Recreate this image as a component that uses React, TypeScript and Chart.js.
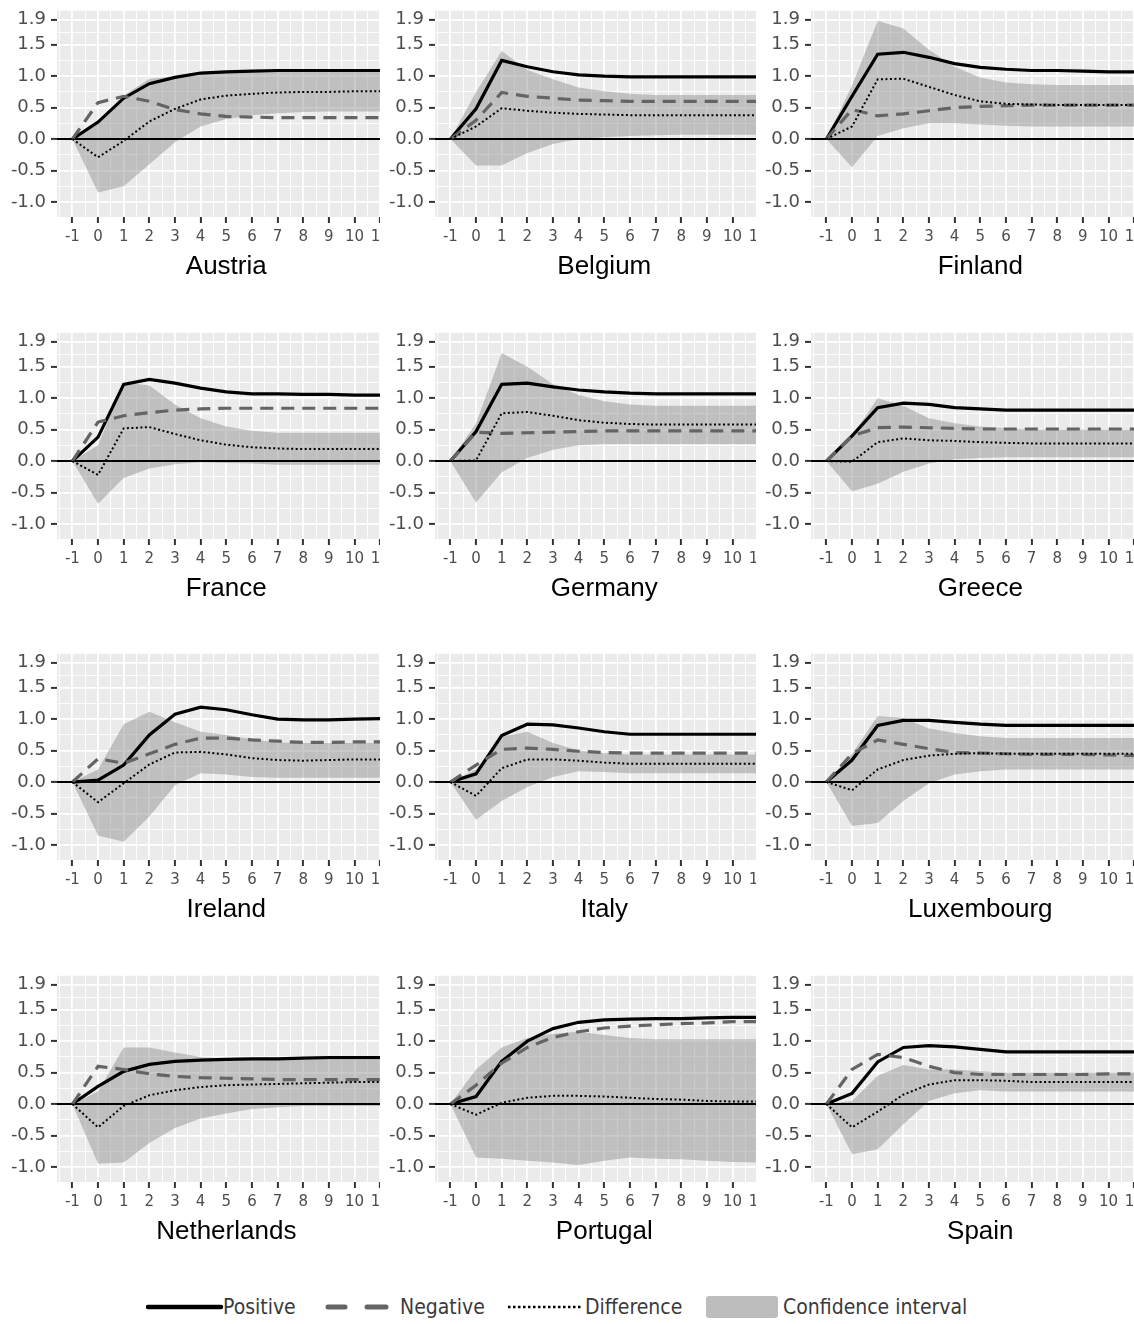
import React, { useEffect, useRef } from 'react';
import { Chart, registerables } from 'chart.js';

Chart.register(...registerables);

// ---- axes ----
const HORIZON = [-1, 0, 1, 2, 3, 4, 5, 6, 7, 8, 9, 10, 11];
const X_MINOR = [-1.5, -0.5, 0.5, 1.5, 2.5, 3.5, 4.5, 5.5, 6.5, 7.5, 8.5, 9.5, 10.5, 11.5];
const X_MIN = -1.6;
const X_MAX = 11.6;
const Y_MAJOR = [-1, -0.5, 0, 0.5, 1, 1.5, 1.9];
const Y_MINOR = [-0.75, -0.25, 0.25, 0.75, 1.25, 1.7];
const Y_LABELS = ['-1.0', '-0.5', '0.0', '0.5', '1.0', '1.5', '1.9'];
const Y_MIN = -1.24;
const Y_MAX = 2.04;

// ---- data (horizon -1 .. 11) ----
const AUT_POS = [0, 0.27, 0.65, 0.88, 0.98, 1.05, 1.07, 1.08, 1.09, 1.09, 1.09, 1.09, 1.09];
const AUT_NEG = [0, 0.58, 0.68, 0.6, 0.47, 0.4, 0.36, 0.35, 0.34, 0.34, 0.34, 0.34, 0.34];
const AUT_DIFF = [0, -0.29, -0.03, 0.28, 0.48, 0.63, 0.69, 0.72, 0.74, 0.75, 0.75, 0.76, 0.76];
const AUT_UP = [0, 0.27, 0.69, 0.96, 1.0, 1.05, 1.06, 1.07, 1.08, 1.08, 1.08, 1.08, 1.08];
const AUT_LO = [0, -0.85, -0.75, -0.4, -0.05, 0.2, 0.32, 0.38, 0.41, 0.43, 0.44, 0.44, 0.44];

const BEL_POS = [0, 0.48, 1.25, 1.15, 1.07, 1.02, 1.0, 0.99, 0.99, 0.99, 0.99, 0.99, 0.99];
const BEL_NEG = [0, 0.3, 0.74, 0.68, 0.65, 0.62, 0.61, 0.6, 0.6, 0.6, 0.6, 0.6, 0.6];
const BEL_DIFF = [0, 0.2, 0.49, 0.45, 0.42, 0.4, 0.39, 0.38, 0.38, 0.38, 0.38, 0.38, 0.38];
const BEL_UP = [0, 0.75, 1.4, 1.1, 0.95, 0.82, 0.76, 0.72, 0.7, 0.7, 0.7, 0.7, 0.7];
const BEL_LO = [0, -0.42, -0.42, -0.22, -0.08, 0.0, 0.03, 0.05, 0.06, 0.07, 0.07, 0.07, 0.07];

const FIN_POS = [0, 0.68, 1.35, 1.38, 1.3, 1.2, 1.14, 1.11, 1.09, 1.09, 1.08, 1.07, 1.07];
const FIN_NEG = [0, 0.47, 0.37, 0.4, 0.45, 0.5, 0.52, 0.53, 0.54, 0.54, 0.54, 0.54, 0.54];
const FIN_DIFF = [0, 0.2, 0.95, 0.96, 0.83, 0.7, 0.6, 0.56, 0.55, 0.54, 0.54, 0.54, 0.54];
const FIN_UP = [0, 0.85, 1.88, 1.76, 1.42, 1.15, 0.98, 0.9, 0.87, 0.86, 0.86, 0.86, 0.86];
const FIN_LO = [0, -0.45, 0.05, 0.17, 0.25, 0.25, 0.23, 0.21, 0.2, 0.2, 0.2, 0.2, 0.2];

const FRA_POS = [0, 0.38, 1.22, 1.3, 1.24, 1.16, 1.1, 1.07, 1.07, 1.06, 1.06, 1.05, 1.05];
const FRA_NEG = [0, 0.62, 0.72, 0.77, 0.81, 0.83, 0.84, 0.84, 0.84, 0.84, 0.84, 0.84, 0.84];
const FRA_DIFF = [0, -0.22, 0.52, 0.54, 0.43, 0.33, 0.26, 0.22, 0.2, 0.19, 0.19, 0.19, 0.19];
const FRA_UP = [0, 0.25, 1.25, 1.2, 0.9, 0.68, 0.55, 0.48, 0.45, 0.45, 0.45, 0.45, 0.45];
const FRA_LO = [0, -0.68, -0.27, -0.12, -0.05, -0.02, -0.03, -0.04, -0.06, -0.06, -0.06, -0.06, -0.06];

const DEU_POS = [0, 0.47, 1.22, 1.24, 1.18, 1.13, 1.1, 1.08, 1.07, 1.07, 1.07, 1.07, 1.07];
const DEU_NEG = [0, 0.46, 0.44, 0.45, 0.46, 0.47, 0.48, 0.48, 0.48, 0.48, 0.48, 0.48, 0.48];
const DEU_DIFF = [0, 0.01, 0.76, 0.78, 0.72, 0.65, 0.61, 0.59, 0.58, 0.58, 0.58, 0.58, 0.58];
const DEU_UP = [0, 0.6, 1.72, 1.5, 1.22, 1.05, 0.95, 0.9, 0.88, 0.88, 0.88, 0.88, 0.88];
const DEU_LO = [0, -0.66, -0.18, 0.05, 0.18, 0.25, 0.27, 0.27, 0.27, 0.27, 0.27, 0.27, 0.27];

const GRC_POS = [0, 0.4, 0.85, 0.92, 0.9, 0.85, 0.83, 0.81, 0.81, 0.81, 0.81, 0.81, 0.81];
const GRC_NEG = [0, 0.4, 0.53, 0.54, 0.53, 0.52, 0.51, 0.51, 0.51, 0.51, 0.51, 0.51, 0.51];
const GRC_DIFF = [0, -0.01, 0.3, 0.36, 0.33, 0.32, 0.3, 0.29, 0.28, 0.28, 0.28, 0.28, 0.28];
const GRC_UP = [0, 0.4, 1.0, 0.88, 0.68, 0.6, 0.55, 0.52, 0.5, 0.5, 0.5, 0.5, 0.5];
const GRC_LO = [0, -0.48, -0.36, -0.17, -0.04, 0.03, 0.05, 0.06, 0.06, 0.06, 0.06, 0.06, 0.06];

const IRL_POS = [0, 0.03, 0.27, 0.75, 1.08, 1.19, 1.15, 1.07, 1.0, 0.99, 0.99, 1.0, 1.01];
const IRL_NEG = [0, 0.37, 0.3, 0.45, 0.6, 0.7, 0.7, 0.67, 0.65, 0.63, 0.63, 0.64, 0.64];
const IRL_DIFF = [0, -0.32, -0.02, 0.28, 0.47, 0.48, 0.44, 0.38, 0.35, 0.34, 0.35, 0.36, 0.36];
const IRL_UP = [0, 0.2, 0.92, 1.12, 0.95, 0.8, 0.75, 0.68, 0.63, 0.62, 0.62, 0.62, 0.62];
const IRL_LO = [0, -0.85, -0.95, -0.55, -0.05, 0.14, 0.12, 0.08, 0.07, 0.07, 0.07, 0.07, 0.07];

const ITA_POS = [0, 0.13, 0.74, 0.92, 0.91, 0.86, 0.8, 0.76, 0.76, 0.76, 0.76, 0.76, 0.76];
const ITA_NEG = [0, 0.27, 0.52, 0.54, 0.52, 0.49, 0.47, 0.46, 0.46, 0.46, 0.46, 0.46, 0.46];
const ITA_DIFF = [0, -0.22, 0.22, 0.36, 0.36, 0.34, 0.31, 0.29, 0.29, 0.29, 0.29, 0.29, 0.29];
const ITA_UP = [0, 0.2, 0.72, 0.8, 0.62, 0.5, 0.46, 0.44, 0.44, 0.44, 0.44, 0.44, 0.44];
const ITA_LO = [0, -0.6, -0.3, -0.08, 0.08, 0.17, 0.16, 0.14, 0.14, 0.14, 0.14, 0.14, 0.14];

const LUX_POS = [0, 0.35, 0.9, 0.98, 0.98, 0.95, 0.92, 0.9, 0.9, 0.9, 0.9, 0.9, 0.9];
const LUX_NEG = [0, 0.45, 0.67, 0.6, 0.53, 0.47, 0.46, 0.45, 0.44, 0.44, 0.44, 0.43, 0.42];
const LUX_DIFF = [0, -0.13, 0.2, 0.35, 0.42, 0.45, 0.46, 0.45, 0.45, 0.45, 0.45, 0.45, 0.45];
const LUX_UP = [0, 0.45, 1.05, 1.02, 0.85, 0.78, 0.73, 0.7, 0.7, 0.7, 0.7, 0.7, 0.7];
const LUX_LO = [0, -0.7, -0.65, -0.3, -0.02, 0.12, 0.17, 0.2, 0.2, 0.2, 0.2, 0.2, 0.2];

const NLD_POS = [0, 0.28, 0.52, 0.63, 0.68, 0.7, 0.71, 0.72, 0.72, 0.73, 0.74, 0.74, 0.74];
const NLD_NEG = [0, 0.6, 0.55, 0.48, 0.44, 0.42, 0.41, 0.4, 0.39, 0.39, 0.39, 0.39, 0.39];
const NLD_DIFF = [0, -0.37, -0.03, 0.14, 0.22, 0.27, 0.3, 0.31, 0.32, 0.33, 0.34, 0.35, 0.35];
const NLD_UP = [0, 0.2, 0.9, 0.9, 0.82, 0.75, 0.72, 0.7, 0.7, 0.7, 0.7, 0.7, 0.7];
const NLD_LO = [0, -0.95, -0.93, -0.62, -0.38, -0.23, -0.15, -0.08, -0.05, -0.03, -0.03, -0.03, -0.03];

const PRT_POS = [0, 0.12, 0.68, 1.0, 1.2, 1.3, 1.34, 1.35, 1.36, 1.36, 1.37, 1.38, 1.38];
const PRT_NEG = [0, 0.3, 0.65, 0.9, 1.06, 1.15, 1.21, 1.24, 1.26, 1.28, 1.29, 1.31, 1.31];
const PRT_DIFF = [0, -0.17, 0.02, 0.1, 0.13, 0.13, 0.12, 0.1, 0.08, 0.07, 0.05, 0.04, 0.04];
const PRT_UP = [0, 0.55, 0.9, 1.05, 1.12, 1.15, 1.1, 1.05, 1.03, 1.03, 1.03, 1.03, 1.03];
const PRT_LO = [0, -0.85, -0.87, -0.9, -0.93, -0.97, -0.9, -0.85, -0.87, -0.88, -0.9, -0.92, -0.93];

const ESP_POS = [0, 0.17, 0.67, 0.9, 0.93, 0.91, 0.87, 0.83, 0.83, 0.83, 0.83, 0.83, 0.83];
const ESP_NEG = [0, 0.55, 0.79, 0.74, 0.6, 0.5, 0.47, 0.47, 0.47, 0.47, 0.47, 0.48, 0.48];
const ESP_DIFF = [0, -0.37, -0.12, 0.15, 0.31, 0.38, 0.38, 0.37, 0.35, 0.35, 0.35, 0.35, 0.35];
const ESP_UP = [0, 0.05, 0.45, 0.62, 0.55, 0.55, 0.52, 0.5, 0.5, 0.5, 0.5, 0.5, 0.5];
const ESP_LO = [0, -0.8, -0.72, -0.32, 0.05, 0.17, 0.22, 0.2, 0.2, 0.2, 0.2, 0.2, 0.2];

const PANELS = [
  { name: 'Austria', pos: AUT_POS, neg: AUT_NEG, diff: AUT_DIFF, up: AUT_UP, lo: AUT_LO },
  { name: 'Belgium', pos: BEL_POS, neg: BEL_NEG, diff: BEL_DIFF, up: BEL_UP, lo: BEL_LO },
  { name: 'Finland', pos: FIN_POS, neg: FIN_NEG, diff: FIN_DIFF, up: FIN_UP, lo: FIN_LO },
  { name: 'France', pos: FRA_POS, neg: FRA_NEG, diff: FRA_DIFF, up: FRA_UP, lo: FRA_LO },
  { name: 'Germany', pos: DEU_POS, neg: DEU_NEG, diff: DEU_DIFF, up: DEU_UP, lo: DEU_LO },
  { name: 'Greece', pos: GRC_POS, neg: GRC_NEG, diff: GRC_DIFF, up: GRC_UP, lo: GRC_LO },
  { name: 'Ireland', pos: IRL_POS, neg: IRL_NEG, diff: IRL_DIFF, up: IRL_UP, lo: IRL_LO },
  { name: 'Italy', pos: ITA_POS, neg: ITA_NEG, diff: ITA_DIFF, up: ITA_UP, lo: ITA_LO },
  { name: 'Luxembourg', pos: LUX_POS, neg: LUX_NEG, diff: LUX_DIFF, up: LUX_UP, lo: LUX_LO },
  { name: 'Netherlands', pos: NLD_POS, neg: NLD_NEG, diff: NLD_DIFF, up: NLD_UP, lo: NLD_LO },
  { name: 'Portugal', pos: PRT_POS, neg: PRT_NEG, diff: PRT_DIFF, up: PRT_UP, lo: PRT_LO },
  { name: 'Spain', pos: ESP_POS, neg: ESP_NEG, diff: ESP_DIFF, up: ESP_UP, lo: ESP_LO },
];

// ---- layout ----
const COL_LEFT = [0, 380, 756];
const COL_AXIS_W = [57, 55, 55];
const PLOT_W = 341;
const PLOT_H = 210;
const PAD_TOP = 12;
const X_AXIS_H = 70;
const ROW_PITCH = 321.5;
const ROW_TOP0 = -5;

const pts = (ys: number[]) => ys.map((y, i) => ({ x: HORIZON[i], y }));

const panelBg = {
  id: 'panelBg',
  beforeDraw(chart: any) {
    const { ctx, chartArea: a } = chart;
    ctx.save();
    ctx.fillStyle = '#ebebeb';
    ctx.fillRect(a.left, a.top, a.right - a.left, a.bottom - a.top);
    ctx.restore();
  },
};

function Panel({ p, col, row }: any) {
  const ref = useRef<HTMLCanvasElement>(null);
  const axisW = COL_AXIS_W[col];
  const w = axisW + PLOT_W;
  const h = PAD_TOP + PLOT_H + X_AXIS_H;
  useEffect(() => {
    if (!ref.current) return;
    const chart = new Chart(ref.current, {
      type: 'line',
      data: {
        datasets: [
          {
            label: 'Difference',
            data: pts(p.diff),
            borderColor: '#000000',
            borderWidth: 2,
            borderDash: [2, 2.5],
            pointRadius: 0,
            tension: 0,
            fill: false,
          },
          {
            label: 'Negative',
            data: pts(p.neg),
            borderColor: '#646464',
            borderWidth: 3.2,
            borderDash: [13, 8],
            pointRadius: 0,
            tension: 0,
            fill: false,
          },
          {
            label: 'Positive',
            data: pts(p.pos),
            borderColor: '#000000',
            borderWidth: 3.2,
            pointRadius: 0,
            tension: 0,
            fill: false,
          },
          {
            label: 'zero',
            data: [{ x: X_MIN, y: 0 }, { x: X_MAX, y: 0 }],
            borderColor: '#000000',
            borderWidth: 2,
            pointRadius: 0,
            fill: false,
          },
          {
            label: 'CI upper',
            data: pts(p.up),
            borderWidth: 0,
            borderColor: 'rgba(0,0,0,0)',
            backgroundColor: 'rgba(135,135,135,0.44)',
            pointRadius: 0,
            tension: 0,
            fill: '+1',
          },
          {
            label: 'CI lower',
            data: pts(p.lo),
            borderWidth: 0,
            borderColor: 'rgba(0,0,0,0)',
            pointRadius: 0,
            tension: 0,
            fill: false,
          },
        ],
      },
      options: {
        responsive: false,
        animation: false,
        events: [],
        layout: { padding: { top: PAD_TOP, left: 0, right: 0, bottom: 0 } },
        plugins: { legend: { display: false }, tooltip: { enabled: false }, title: { display: false } },
        scales: {
          x: {
            type: 'linear',
            min: X_MIN,
            max: X_MAX,
            afterBuildTicks: (s: any) => {
              s.ticks = [...HORIZON, ...X_MINOR].sort((a, b) => a - b).map((v) => ({ value: v }));
            },
            afterFit: (s: any) => {
              s.height = X_AXIS_H;
            },
            border: { display: false },
            grid: {
              color: '#ffffff',
              lineWidth: (c: any) => (c.tick && HORIZON.includes(c.tick.value) ? 1.8 : 0.9),
              tickColor: (c: any) => (c.tick && HORIZON.includes(c.tick.value) ? '#333333' : 'rgba(0,0,0,0)'),
              tickLength: 6,
              tickWidth: 2,
            },
            ticks: {
              autoSkip: false,
              maxRotation: 0,
              padding: 5,
              color: '#4d4d4d',
              font: { family: 'DejaVu Sans', size: 15 },
              callback: (v: any) => (HORIZON.includes(v) ? String(v) : ''),
            },
            title: {
              display: true,
              text: p.name,
              color: '#000000',
              font: { family: 'Liberation Sans, Arial, sans-serif', size: 26 },
              padding: { top: 0, bottom: 5 },
            },
          },
          y: {
            type: 'linear',
            min: Y_MIN,
            max: Y_MAX,
            afterBuildTicks: (s: any) => {
              s.ticks = [...Y_MAJOR, ...Y_MINOR].sort((a, b) => a - b).map((v) => ({ value: v }));
            },
            afterFit: (s: any) => {
              s.width = axisW;
            },
            border: { display: false },
            grid: {
              color: '#ffffff',
              lineWidth: (c: any) => (c.tick && Y_MAJOR.includes(c.tick.value) ? 1.8 : 0.9),
              tickColor: (c: any) => (c.tick && Y_MAJOR.includes(c.tick.value) ? '#333333' : 'rgba(0,0,0,0)'),
              tickLength: 6,
              tickWidth: 2,
            },
            ticks: {
              autoSkip: false,
              padding: 5,
              color: '#4d4d4d',
              font: { family: 'DejaVu Sans', size: 18 },
              callback: (v: any) => {
                const i = Y_MAJOR.indexOf(v);
                return i >= 0 ? Y_LABELS[i] : '';
              },
            },
          },
        },
      },
      plugins: [panelBg],
    } as any);
    return () => chart.destroy();
  }, []);
  return (
    <canvas
      ref={ref}
      width={w}
      height={h}
      style={{
        position: 'absolute',
        left: COL_LEFT[col],
        top: ROW_TOP0 + ROW_PITCH * row,
        width: w,
        height: h,
        background: '#ffffff',
      }}
    />
  );
}

const legendText: any = {
  position: 'absolute',
  top: 1295,
  height: 24,
  lineHeight: '24px',
  fontFamily: '"DejaVu Sans Condensed", "Liberation Sans Narrow", "DejaVu Sans", sans-serif',
  fontStretch: 'condensed',
  fontSize: 21,
  color: '#3a3a3a',
  whiteSpace: 'nowrap',
};

function Legend() {
  return (
    <>
      <svg style={{ position: 'absolute', left: 146, top: 1300, width: 78, height: 14 }}>
        <line x1={2} y1={7} x2={75} y2={7} stroke="#000" strokeWidth={4.5} strokeLinecap="round" />
      </svg>
      <div style={{ ...legendText, left: 223 }}>Positive</div>
      <svg style={{ position: 'absolute', left: 325, top: 1300, width: 66, height: 14 }}>
        <line x1={3} y1={7} x2={20} y2={7} stroke="#646464" strokeWidth={5} strokeLinecap="round" />
        <line x1={42} y1={7} x2={61} y2={7} stroke="#646464" strokeWidth={5} strokeLinecap="round" />
      </svg>
      <div style={{ ...legendText, left: 400 }}>Negative</div>
      <svg style={{ position: 'absolute', left: 506, top: 1300, width: 78, height: 14 }}>
        <line x1={2} y1={7} x2={75} y2={7} stroke="#000" strokeWidth={2.5} strokeDasharray="2.5 2.5" />
      </svg>
      <div style={{ ...legendText, left: 585 }}>Difference</div>
      <div
        style={{
          position: 'absolute',
          left: 706,
          top: 1296,
          width: 72,
          height: 22,
          background: '#bdbdbd',
          borderRadius: 3,
        }}
      />
      <div style={{ ...legendText, left: 783 }}>Confidence interval</div>
    </>
  );
}

export default function App() {
  return (
    <div
      style={{
        position: 'absolute',
        left: 0,
        top: 0,
        width: 1134,
        height: 1324,
        overflow: 'hidden',
        background: '#ffffff',
      }}
    >
      {PANELS.map((p, i) => (
        <Panel key={p.name} p={p} col={i % 3} row={Math.floor(i / 3)} />
      ))}
      <Legend />
    </div>
  );
}
